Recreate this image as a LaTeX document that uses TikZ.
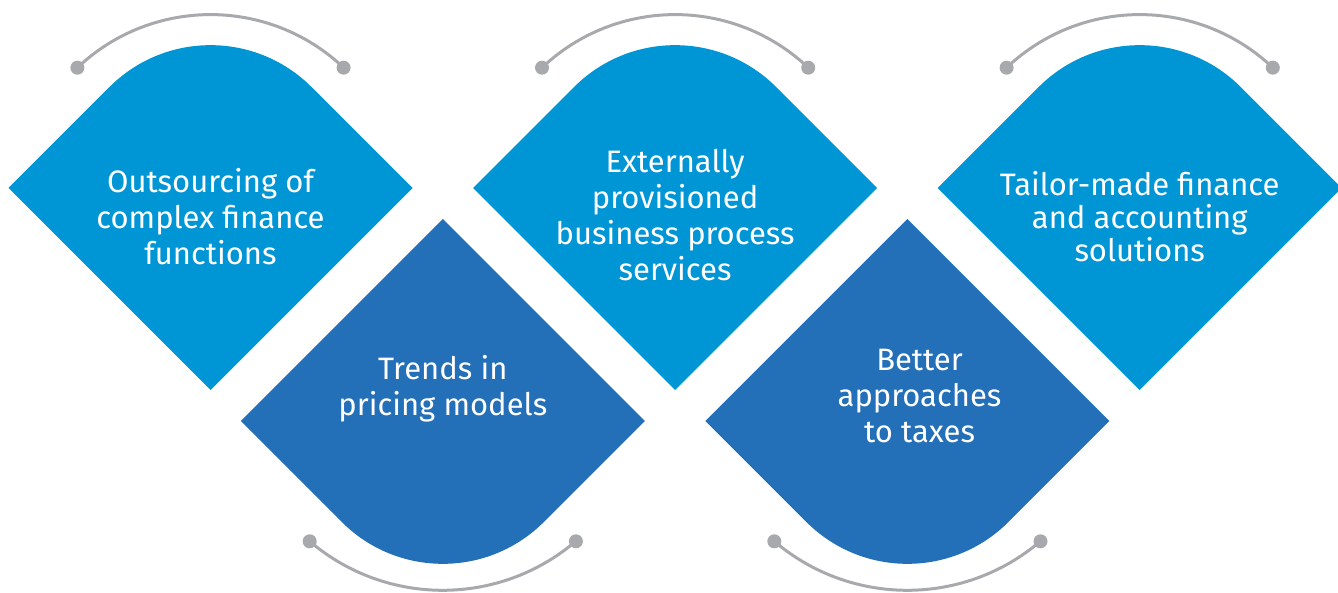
\documentclass[tikz,border=0pt]{standalone}
\usepackage{fontspec}
\setmainfont{Fira Sans}
\definecolor{lblue}{HTML}{0096D6}
\definecolor{dblue}{HTML}{236FB8}
\definecolor{arcgray}{HTML}{A7A9AC}
\newcommand\topdiamond[3]{%
  \fill[#3] (#1-202,#2) -- (#1-101,#2+101)
    arc[start angle=135,end angle=45,radius=142.84pt]
    -- (#1+202,#2) -- (#1,#2-202) -- cycle;}
\newcommand\botdiamond[3]{%
  \fill[#3] (#1-202,#2) -- (#1,#2+202) -- (#1+202,#2) -- (#1+101,#2-101)
    arc[start angle=-45,end angle=-135,radius=142.84pt] -- cycle;}
\begin{document}
\begin{tikzpicture}[x=1pt,y=1pt,
  labeltext/.style={text=white, align=center, font=\fontsize{31}{36}\selectfont, inner sep=0pt},
  connarc/.style={draw=arcgray, line width=3pt},
  arcdot/.style={circle, fill=arcgray, inner sep=0pt, minimum size=14pt}]
\useasboundingbox (0,0) rectangle (1338,592);
% diamonds
\topdiamond{210.5}{404}{lblue}
\botdiamond{442.8}{171}{dblue}
\topdiamond{675.1}{404}{lblue}
\botdiamond{907.4}{171}{dblue}
\topdiamond{1139.7}{404}{lblue}
% top arcs
\foreach \cx/\n in {210.5/a, 675.1/b, 1139.7/c}{
  \coordinate (\n s) at (\cx-133.1,524.3);
  \coordinate (\n e) at (\cx+133.1,524.3);
  \draw[connarc] (\n s) arc[start angle=133.5,end angle=46.5,radius=193.4pt];
  \node[arcdot] (\n sd) at (\n s) {};
  \node[arcdot] (\n ed) at (\n e) {};
}
% bottom arcs
\foreach \cx/\n in {442.8/d, 907.4/e}{
  \coordinate (\n s) at (\cx-133.1,50.7);
  \coordinate (\n e) at (\cx+133.1,50.7);
  \draw[connarc] (\n s) arc[start angle=-130.45,end angle=-49.55,radius=205pt];
  \node[arcdot] (\n sd) at (\n s) {};
  \node[arcdot] (\n ed) at (\n e) {};
}
% texts
\node[labeltext] (t1) at (210.5,375) {Outsourcing of\\complex finance\\functions};
\node[labeltext] (t2) at (675.1,377) {Externally\\provisioned\\business process\\services};
\node[labeltext, font=\fontsize{31}{33}\selectfont] (t3) at (1139.7,375) {Tailor-made finance\\and accounting\\solutions};
\node[labeltext] (t4) at (442.8,203.5) {Trends in\\pricing models};
\node[labeltext] (t5) at (919.5,196) {Better\\approaches\\to taxes};
\end{tikzpicture}
\end{document}
